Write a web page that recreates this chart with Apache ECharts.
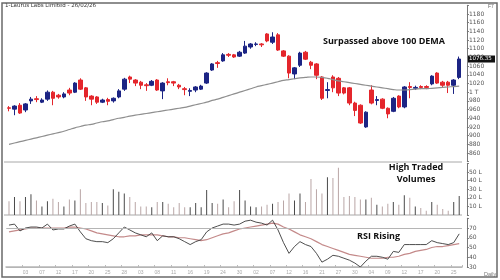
<!DOCTYPE html>
<html><head><meta charset="utf-8">
<script src="https://cdn.jsdelivr.net/npm/echarts@6/dist/echarts.min.js"></script>
<style>html,body{margin:0;padding:0;background:#fff}#c{width:500px;height:280px}</style>
</head><body><div id="c"></div>
<script>
const chartTitle = '1-Laurus Labs Limited - 26/02/26';
const days = ['2025-10-29','2025-10-30','2025-10-31','2025-11-03','2025-11-04','2025-11-06','2025-11-07','2025-11-10','2025-11-11','2025-11-12',
'2025-11-13','2025-11-14','2025-11-17','2025-11-18','2025-11-19','2025-11-20','2025-11-21','2025-11-24','2025-11-25','2025-11-26',
'2025-11-27','2025-11-28','2025-12-01','2025-12-02','2025-12-03','2025-12-04','2025-12-05','2025-12-08','2025-12-09','2025-12-10',
'2025-12-11','2025-12-12','2025-12-15','2025-12-16','2025-12-17','2025-12-18','2025-12-19','2025-12-22','2025-12-23','2025-12-24',
'2025-12-26','2025-12-29','2025-12-30','2025-12-31','2026-01-01','2026-01-02','2026-01-05','2026-01-06','2026-01-07','2026-01-08',
'2026-01-09','2026-01-12','2026-01-13','2026-01-14','2026-01-16','2026-01-19','2026-01-20','2026-01-21','2026-01-22','2026-01-23',
'2026-01-27','2026-01-28','2026-01-29','2026-01-30','2026-02-02','2026-02-03','2026-02-04','2026-02-05','2026-02-06','2026-02-09',
'2026-02-10','2026-02-11','2026-02-12','2026-02-13','2026-02-16','2026-02-17','2026-02-18','2026-02-19','2026-02-20','2026-02-23',
'2026-02-24','2026-02-25','2026-02-26'];
const open  = [964,961,970,959,980,985,977,984,1000,993, 989,1005,1000,1028,1010,991,989,977,983,980, 989,1007,1035,1028,1023,1017,1016,1028,1003,1024,
1024,1016,1008,1002,1005,1007,1021,1051,1068,1072, 1087,1086,1083,1090,1104,1110,1111,1134,1115,1132, 1095,1083,1042,1062,1092,1069,1065,1035,1004,1035,
1032,1010,1010,975,970,920,1005,981,984,963, 956,991,966,1013,1009,1013,1013,1019,1044,1023, 1023,1016,1034];
const close = [963,968,952,973,984,983,982,1000,986,989, 996,998,1021,1007,989,984,977,982,979,986, 1003,1030,1030,1021,1016,1015,1025,1005,1021,1022,
1021,1012,1006,1004,1012,1014,1044,1065,1066,1086, 1085,1081,1092,1106,1111,1111,1109,1118,1127,1097, 1083,1044,1056,1090,1076,1062,1039,986,1006,1010,
998,998,975,958,929,954,975,983,963,950, 986,966,1012,1011,1011,1011,1011,1037,1021,1016, 1016,1028,1076.35];
const low   = [956,947,950,954,973,977,975,980,970,985, 986,993,998,1005,980,970,973,975,970,976, 986,1003,1021,1014,1007,1003,1014,1003,984,1016,
1014,1007,993,991,1000,1005,1019,1049,1056,1070, 1081,1079,1081,1088,1100,1106,1104,1115,1111,1095, 1081,1032,1030,1058,1074,1053,1030,982,986,1000,
991,995,970,945,927,918,972,970,961,940, 954,963,963,986,1005,1007,1007,1016,1019,1012, 998,996,1030];
const high  = [968,970,975,975,989,991,986,1004,1003,996, 1000,1010,1023,1032,1012,993,991,985,987,988, 1007,1033,1038,1030,1026,1021,1028,1030,1023,1032,
1026,1019,1012,1009,1014,1017,1046,1067,1072,1090, 1090,1088,1095,1118,1113,1115,1113,1136,1138,1136, 1097,1085,1058,1093,1095,1072,1067,1037,1023,1039,
1035,1012,1012,978,972,956,1016,991,986,965, 989,993,1014,1023,1015,1016,1016,1039,1046,1026, 1026,1030,1082];
const dema100 = [880,883,886,889,892,895,898,901,904,907, 910,914,918,921,924,926,929,932,934,937, 940,942,945,947,949,951,953,955,957,959,
961,963,965,968,971,974,977,981,984,988, 992,996,1000,1004,1008,1012,1015,1018,1021,1024, 1027,1029,1031,1033,1034,1035,1035,1034,1032,1029,
1026,1024,1022,1020,1018,1016,1014,1012,1010,1008, 1006,1005,1005,1006,1007,1008,1008,1009,1010,1011, 1012,1013,1014];
const volumeL = [16,21,16,21,24,17,10,16,19,15, 10,18,17,30,14,15,15,14,11,30, 27,25,21,15,10,10,9,15,15,13,
9,14,9,9,14,9,29,14,13,18, 9,16,29,17,10,9,10,12,13,15, 17,25,17,25,15,42,30,25,44,43,
55,21,22,21,18,18,20,12,10,13, 15,12,23,20,10,8,5,15,12,7, 5,15,22];
const rsi = [73,74,67,70,71,71,70,74,68,69, 69,72,74,66,59,57,56,56,55,59, 65,71,68,65,63,61,65,57,62,61,
61,59,56,53,56,58,66,70,72,74, 74,73,74,77,78,76,75,73,78,68, 55,44,51,56,53,51,44,35,38,42,
41,39,37,34,30,36,41,41,40,38, 46,45,53,53,53,53,53,57,55,54, 53,55,64];
const rsiMa = [66,67,68,69,70,70,70,70,70,70, 70,71,71,70,69,67,65,64,63,62, 61,61,62,62,63,63,63,63,62,61,
61,60,60,59,58,57,58,60,62,64, 65,67,69,70,71,72,73,74,75,74, 71,69,66,63,61,59,56,53,51,49,
47,45,43,42,41,40,39,39,39,40, 40,41,43,44,46,47,48,50,51,51, 52,53,54];
const priceTicks = {min: 840, max: 1200, step: 20};
const volTicks = {min: 0, max: 60, step: 10};
const rsiTicks = {min: 30, max: 80, step: 10};

const UP = '#1c2484', DOWN = '#e4262c';
const isUp = close.map((c, i) => c >= open[i]);
const candles = open.map((o, i) => [o, close[i], low[i], high[i]]);
const volBars = volumeL.map((v, i) => ({value: v, itemStyle: {color: isUp[i] ? '#4a4a4a' : '#b9a6a6'}}));

const chart = echarts.init(document.getElementById('c'));
const L = 6.25, R = 38.05;
const lblShow = (idx) => idx > 0 && idx % 3 === 0;
const baseX = (g, show) => ({
  type: 'category', gridIndex: g, data: days, boundaryGap: true,
  axisLine: {show: show, onZero: false, lineStyle: {color: '#c8c8c8', width: 2}},
  axisTick: {show: show, interval: lblShow, length: 2, inside: true, lineStyle: {color: '#bbb'}},
  axisLabel: {show: show, interval: lblShow, fontSize: 5, color: '#aaa', margin: 3,
    formatter: v => v.slice(8, 10)},
  splitLine: {show: false}
});
const baseY = (g, t, fmt) => ({
  type: 'value', gridIndex: g, position: 'right', offset: 5,
  min: t.min, max: t.max, interval: t.step, scale: true,
  axisLine: {show: true, lineStyle: {color: '#777'}},
  axisTick: {show: true, length: 2, lineStyle: {color: '#777'}},
  axisLabel: {fontSize: 6, color: '#555', margin: 2, fontFamily: 'DejaVu Sans', formatter: fmt},
  splitLine: {show: false}
});

chart.setOption({
  animation: false,
  backgroundColor: '#fff',
  grid: [
    {left: L, right: R, top: 5.31, height: 156.38},
    {left: L, right: R, top: 163.4, height: 51.6},
    {left: L, right: R, top: 218.25, height: 48.75}
  ],
  xAxis: [baseX(0, false), baseX(1, false), baseX(2, true)],
  yAxis: [
    baseY(0, priceTicks, v => (v === priceTicks.min || v === priceTicks.max) ? '' : (v === 1000 ? '1 T' : String(v))),
    baseY(1, volTicks, v => (v === volTicks.min || v === volTicks.max) ? '' : v + ' L'),
    baseY(2, rsiTicks, v => (v === rsiTicks.max) ? '' : String(v))
  ],
  series: [
    {type: 'candlestick', xAxisIndex: 0, yAxisIndex: 0, data: candles, barWidth: 4,
      itemStyle: {color: UP, color0: DOWN, borderColor: UP, borderColor0: DOWN, borderWidth: 1}},
    {type: 'line', xAxisIndex: 0, yAxisIndex: 0, data: dema100, showSymbol: false, smooth: true,
      lineStyle: {color: '#8f8f8f', width: 1.2}},
    {type: 'bar', xAxisIndex: 1, yAxisIndex: 1, data: volBars, barWidth: 1},
    {type: 'line', xAxisIndex: 2, yAxisIndex: 2, data: rsiMa, showSymbol: false,
      lineStyle: {color: '#c48a8a', width: 1.2}},
    {type: 'line', xAxisIndex: 2, yAxisIndex: 2, data: rsi, showSymbol: false,
      lineStyle: {color: '#3a3a3a', width: 0.9},
      markLine: {silent: true, symbol: 'none', label: {show: false},
        lineStyle: {color: '#b5b5b5', type: 'solid', width: 1},
        data: [{yAxis: 70}, {yAxis: 30}]}}
  ]
});

const lastClose = close[close.length - 1];
const yPix = chart.convertToPixel({yAxisIndex: 0}, lastClose);
chart.setOption({graphic: [
  {type: 'rect', shape: {x: 2, y: 3, width: 495, height: 274}, style: {fill: 'none', stroke: '#6a6a6a', lineWidth: 1.5}, silent: true, z: 50},
  {type: 'line', shape: {x1: 4, y1: 162, x2: 462, y2: 162}, style: {stroke: '#a8a8a8', lineWidth: 1}, silent: true},
  {type: 'line', shape: {x1: 4, y1: 215, x2: 462, y2: 215}, style: {stroke: '#a8a8a8', lineWidth: 1}, silent: true},
  {type: 'text', x: 5, y: 3, style: {text: chartTitle, fontSize: 5.5, fill: '#333', fontFamily: 'DejaVu Sans'}},
  {type: 'text', x: 488, y: 4, style: {text: 'F7', fontSize: 5, fill: '#666'}},
  {type: 'text', x: 323, y: 37, style: {text: 'Surpassed above 100 DEMA', fontSize: 9, fontWeight: 'bold', fill: '#111', fontFamily: 'Open Sans'}},
  {type: 'text', x: 416, y: 163, style: {text: 'High Traded', fontSize: 9, fontWeight: 'bold', fill: '#111', fontFamily: 'Open Sans', align: 'center'}},
  {type: 'text', x: 416, y: 175, style: {text: 'Volumes', fontSize: 9, fontWeight: 'bold', fill: '#111', fontFamily: 'Open Sans', align: 'center'}},
  {type: 'text', x: 357, y: 232, style: {text: 'RSI Rising', fontSize: 9, fontWeight: 'bold', fill: '#111', fontFamily: 'Open Sans'}},
  {type: 'text', x: 484, y: 271, style: {text: 'Daily', fontSize: 5.5, fill: '#777'}},
  {type: 'rect', shape: {x: 468, y: yPix - 3.5, width: 27, height: 7}, style: {fill: '#111'}, z: 100},
  {type: 'text', x: 469, y: yPix - 3, style: {text: lastClose.toFixed(2), fontSize: 5.5, fill: '#ffffff', fontFamily: 'DejaVu Sans'}, z: 101}
]});
</script></body></html>
